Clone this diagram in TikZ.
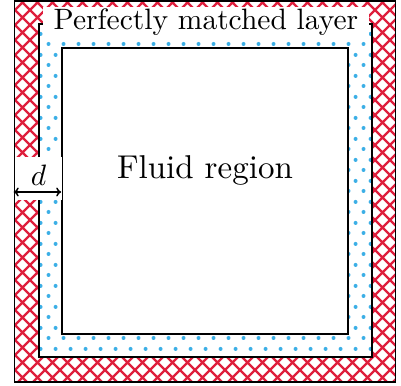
\documentclass[tikz,border=0pt]{standalone}
\usetikzlibrary{patterns,arrows.meta}
\definecolor{pmlred}{RGB}{222,30,60}
\definecolor{dotblue}{RGB}{60,175,230}
\pgfdeclarepatternformonly{myhatch}{\pgfqpoint{-1pt}{-1pt}}{\pgfqpoint{16pt}{16pt}}{\pgfqpoint{15pt}{15pt}}{%
  \pgfsetlinewidth{2.2pt}%
  \pgfpathmoveto{\pgfqpoint{-0.5pt}{-0.5pt}}\pgfpathlineto{\pgfqpoint{15.5pt}{15.5pt}}%
  \pgfpathmoveto{\pgfqpoint{-0.5pt}{15.5pt}}\pgfpathlineto{\pgfqpoint{15.5pt}{-0.5pt}}%
  \pgfusepath{stroke}}
\pgfdeclarepatternformonly{mydots}{\pgfqpoint{0pt}{0pt}}{\pgfqpoint{15pt}{21pt}}{\pgfqpoint{15pt}{21pt}}{%
  \pgfpathcircle{\pgfqpoint{3.75pt}{5.25pt}}{2.1pt}%
  \pgfpathcircle{\pgfqpoint{11.25pt}{15.75pt}}{2.1pt}%
  \pgfusepath{fill}}
\tikzset{
  border/.style={draw=black, line width=1.6pt},
}
\newcommand{\bigtxt}[1]{\scalebox{3.3}{#1}}
\newcommand{\labtxt}[1]{\scalebox{2.95}{#1}}
\begin{document}
\begin{tikzpicture}[x=1pt,y=-1pt]
\useasboundingbox (0,0) rectangle (401,385);
% outer PML
\fill[pattern=myhatch, pattern color=pmlred] (14.5,1) rectangle (395.5,382);
\node[border, minimum width=381pt, minimum height=381pt, inner sep=0pt] (outer) at (205,191.5) {};
% middle dotted layer
\fill[white] (39,24) rectangle (372,357);
\fill[pattern=mydots, pattern color=dotblue] (39,24) rectangle (372,357);
\node[border, minimum width=333pt, minimum height=333pt, inner sep=0pt] (middle) at (205.5,190.5) {};
% inner fluid region
\node[border, fill=white, minimum width=286pt, minimum height=286pt, inner sep=0pt] (inner) at (205,191) {};
\node[anchor=base, inner sep=0pt] (fluid) at (205,178) {\bigtxt{Fluid region}};
% label
\node[fill=white, anchor=base, inner xsep=11pt, inner ysep=2pt] (pml) at (206,30) {\labtxt{Perfectly matched layer}};
% d dimension
\fill[white] (14.5,157) rectangle (62,200);
\coordinate (dl) at (outer.west |- 0,192);
\coordinate (dr) at (inner.west |- 0,192);
\draw[line width=1.5pt, {To[length=5pt,width=9pt]}-{To[length=5pt,width=9pt]}] (dl) -- (dr);
\node[anchor=base, inner sep=0pt] (dlab) at (38.5,185) {\labtxt{$d$}};
\end{tikzpicture}
\end{document}
